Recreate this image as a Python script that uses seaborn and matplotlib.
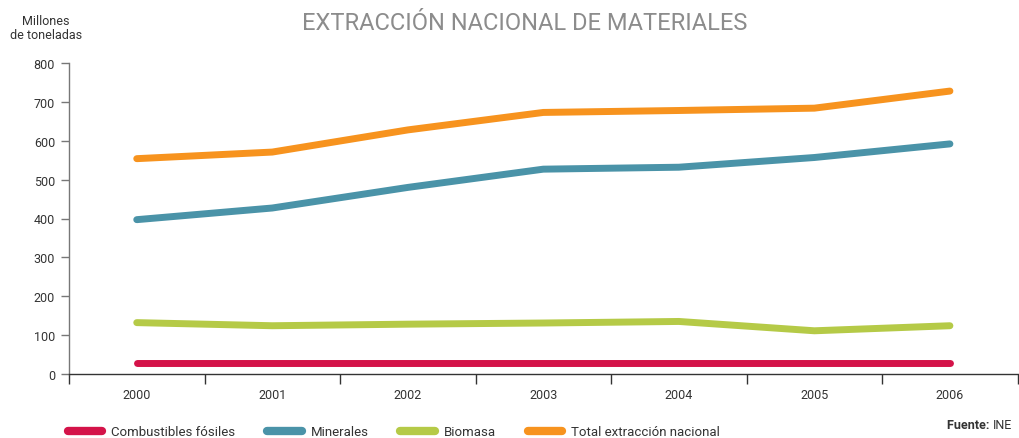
import matplotlib
matplotlib.use("Agg")
import matplotlib.pyplot as plt
from matplotlib.ticker import FixedLocator
import pandas as pd
import seaborn as sns

# Data (millones de toneladas)
years = [2000, 2001, 2002, 2003, 2004, 2005, 2006]
combustibles = [29, 29, 29, 29, 29, 29, 29]
minerales = [397, 427, 480, 527, 532, 557, 592]
biomasa = [132, 124, 128, 131, 135, 111, 124]
total = [554, 571, 628, 673, 678, 684, 728]

series_names = ["Combustibles fósiles", "Minerales", "Biomasa", "Total extracción nacional"]
colors = ["#D41349", "#4A93A8", "#B5CA47", "#F7931E"]

df = pd.concat(
    [
        pd.DataFrame({"year": years, "value": vals, "serie": name})
        for name, vals in zip(series_names, [combustibles, minerales, biomasa, total])
    ]
)

sns.set_style("white")
plt.rcParams["font.family"] = ["Roboto", "DejaVu Sans"]

fig = plt.figure(figsize=(10.19, 4.39), dpi=100)
ax = fig.add_axes([0.0677, 0.146, 0.931, 0.708])

sns.lineplot(
    data=df, x="year", y="value", hue="serie", hue_order=series_names,
    palette=colors, linewidth=5, solid_capstyle="round", ax=ax,
)

ax.set_xlim(1999.5, 2006.5)
ax.set_ylim(0, 800)
ax.set_yticks(range(0, 801, 100))
ax.set_xticks(years)
ax.xaxis.set_minor_locator(FixedLocator([y - 0.5 for y in years] + [2006.5]))
ax.tick_params(axis="x", which="major", length=0, labelsize=9, pad=10, colors="#333333")
ax.tick_params(axis="x", which="minor", length=7, width=1, color="#333333", direction="out", bottom=True)
ax.tick_params(axis="y", length=6, width=1, color="#777777", labelsize=9, labelcolor="#333333", left=True, pad=4)
ax.set_xlabel("")
ax.set_ylabel("")
for side in ["top", "right"]:
    ax.spines[side].set_visible(False)
ax.spines["left"].set_color("#777777")
ax.spines["left"].set_linewidth(1)
ax.spines["bottom"].set_color("#333333")
ax.spines["bottom"].set_linewidth(1)

handles, labels = ax.get_legend_handles_labels()
ax.get_legend().remove()
for h in handles:
    h.set_linewidth(6)
    h.set_solid_capstyle("round")
fig.legend(
    handles, labels, loc="lower left", bbox_to_anchor=(0.055, -0.028), ncol=4,
    frameon=False, fontsize=9.5, handlelength=2.6, handletextpad=0.7,
    columnspacing=2.4, labelcolor="#333333",
)

fig.text(0.515, 0.947, "EXTRACCIÓN NACIONAL DE MATERIALES", ha="center", va="center",
         fontsize=17, color="#8C8C8C")
fig.text(0.045, 0.935, "Millones\nde toneladas", ha="center", va="center",
         fontsize=9, color="#333333", linespacing=1.15)

ine = fig.text(0.993, 0.022, "INE", ha="right", va="baseline", fontsize=9, color="#333333")
ax.annotate("Fuente: ", xy=(0, 0), xycoords=ine, ha="right", va="bottom",
            fontsize=9, fontweight="bold", color="#333333")

fig.savefig("out.png", dpi=100)
